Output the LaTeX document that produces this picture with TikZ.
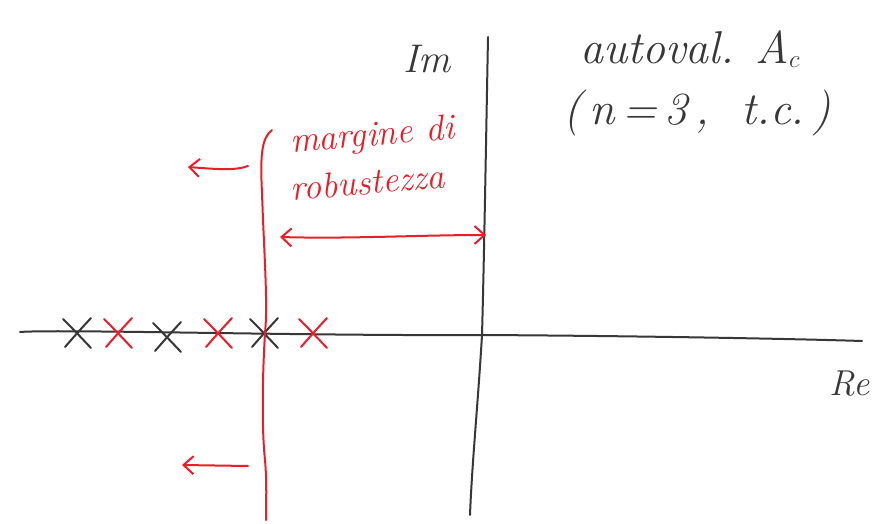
\documentclass[tikz,border=0pt]{standalone}
\usetikzlibrary{arrows.meta}
\definecolor{pen}{RGB}{55,55,55}
\definecolor{redpen}{RGB}{232,30,40}
\tikzset{
  ink/.style={draw=pen, line width=2pt, line cap=round, line join=round},
  redink/.style={draw=redpen, line width=2pt, line cap=round, line join=round},
  hand/.style={font=\itshape, text=pen, inner sep=0pt},
  redhand/.style={font=\itshape, text=redpen, inner sep=0pt},
  arr/.style={-{Straight Barb[length=10pt,width=18pt]}},
}
\newcommand{\xmark}[3]{%
  \draw[#1] (#2-14,#3+14) .. controls (#2-4,#3+4) .. (#2+14,#3-15);
  \draw[#1] (#2+14,#3+15) .. controls (#2+2,#3+2) .. (#2-12,#3-14);
}
\begin{document}
\begin{tikzpicture}[x=1pt,y=1pt]
\useasboundingbox (0,0) rectangle (875,523);
\fill[white] (0,0) rectangle (875,523);
% axes
\coordinate (vtop) at (488,486);
\coordinate (vmid) at (482,188);
\coordinate (vbot) at (470,8);
\draw[ink] (vtop) .. controls (486,380) and (484,260) .. (vmid) .. controls (478,120) and (472,60) .. (vbot);
\coordinate (hl) at (20,191);
\coordinate (hr) at (862,182);
\draw[ink] (hl) .. controls (60,194) and (300,187) .. (vmid) .. controls (650,187) and (800,184) .. (hr);
\node[hand, font=\itshape\fontsize{40}{42}\selectfont] (im) at (427,464) {Im};
\node[hand, font=\itshape\fontsize{36}{38}\selectfont] (re) at (850,139) {Re};
\node[hand, font=\itshape\fontsize{46}{48}\selectfont] (autoval) at (690,474) {autoval. A$_c$};
\node[hand, font=\itshape\fontsize{46}{48}\selectfont] (tc) at (697,410) {(\,n\,=\,3\,,\ \ t.c.\,)};
% poles
\xmark{ink}{77}{190}
\xmark{ink}{167}{186}
\xmark{ink}{264}{190}
\xmark{redink}{118}{190}
\xmark{redink}{218}{190}
\xmark{redink}{313}{190}
% red margin curve
\coordinate (rtop) at (272,393);
\coordinate (rbot) at (266,3);
\draw[redink] (rtop) .. controls (262,385) and (260,370) .. (262,330)
  .. controls (264,270) and (268,220) .. (265,190)
  .. controls (262,140) and (262,90) .. (265,63)
  .. controls (267,40) and (266,20) .. (rbot);
% arrows
\coordinate (a1s) at (248,357);
\coordinate (a1e) at (188,356);
\draw[redink, arr] (a1s) .. controls (235,352) and (215,354) .. (a1e);
\coordinate (a2s) at (248,57);
\coordinate (a2e) at (182,58);
\draw[redink, arr] (a2s) -- (a2e);
\coordinate (a3s) at (280,286);
\coordinate (a3e) at (486,288);
\draw[redink, {Straight Barb[length=10pt,width=18pt]}-{Straight Barb[length=10pt,width=18pt]}] (a3s) .. controls (350,284) and (420,288) .. (a3e);
% text
\node[redhand, font=\itshape\fontsize{36}{38}\selectfont, rotate=5, anchor=base west] (marg) at (291,370) {margine di};
\node[redhand, font=\itshape\fontsize{36}{38}\selectfont, rotate=5, anchor=base west] (rob) at (291,322) {robustezza};
\end{tikzpicture}
\end{document}
